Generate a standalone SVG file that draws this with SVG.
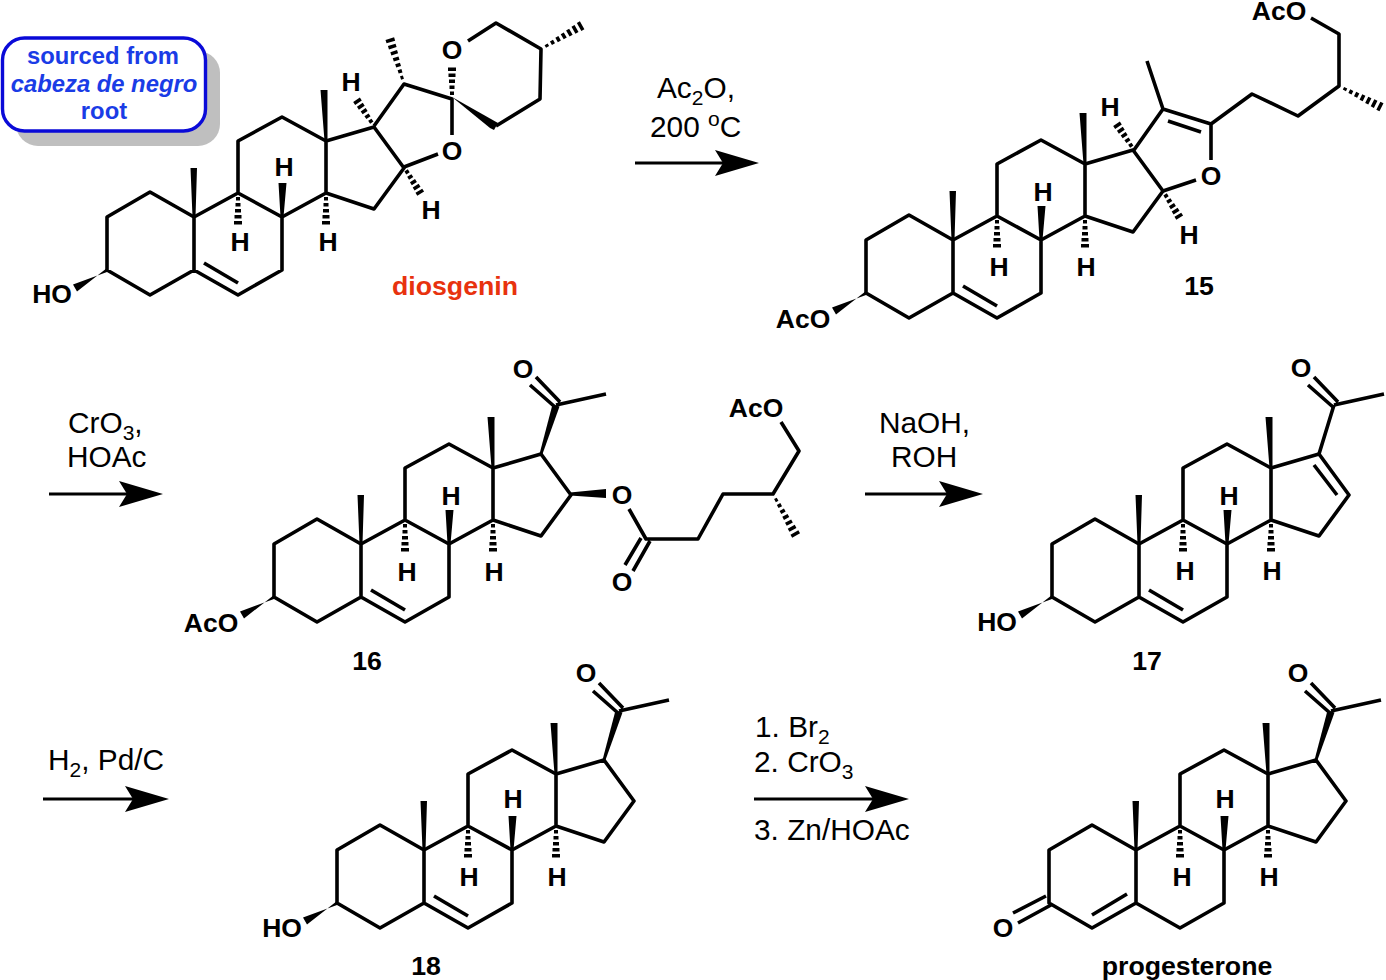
<svg xmlns="http://www.w3.org/2000/svg" xmlns:xlink="http://www.w3.org/1999/xlink" width="1386" height="980" viewBox="0 0 1386 980">
<style>
.b{fill:none;stroke:#000;stroke-width:3.6;stroke-linecap:butt;stroke-linejoin:round}
.w{fill:#000;stroke:none}
text{font-family:"Liberation Sans",Arial,sans-serif;fill:#000}
.a{font-size:26.5px;font-weight:bold;text-anchor:middle}
.l{font-size:26.7px;font-weight:bold;text-anchor:middle}
.r{font-size:29.8px}
.s{font-size:21px}
.c{font-size:23.8px;font-weight:bold;text-anchor:middle;fill:#1a3ce6}
</style>
<defs>
<marker id="ah" markerUnits="userSpaceOnUse" markerWidth="46" markerHeight="28" refX="34" refY="14" orient="auto" viewBox="0 0 46 28"><path class="w" d="M0,1 L44,14 L0,27 L8,14 Z"/></marker>
<path id="hs" class="w" d="M-2,4h4v3.5h-4zM-2.5,10h5v3.5h-5zM-3,16h6v3.5h-6zM-3.5,22h7v3.5h-7zM-4,28h8v3.5h-8z"/>
<path id="hl" class="w" d="M-1.5,5h3v3.5h-3zM-2,11.5h4v3.5h-4zM-2.5,18h5v3.5h-5zM-3,24.5h6v3.5h-6zM-3.5,31h7v3.5h-7zM-4,37.5h8v3.5h-8zM-4.5,44h9v3.5h-9z"/>
<g id="core">
<path class="b" d="M0,53L-44,78L-87,53L-87,0L-44,-25L0,0ZM0,53L44,78L88,53L88,0L44,-24L0,0M44,-24L44,-76L88,-100L132,-76L132,-24L88,0M132,-76L180,-90L210,-49L180,-8L132,-24"/>
<path class="w" d="M-1.5,0L-3.5,-49L3,-49L1.5,0ZM130.5,-76L126.5,-127L133.5,-127L133.5,-76ZM86.5,0L84.5,-34L92.5,-34L89.5,0Z"/>
<use href="#hs" transform="translate(44,-24)"/>
<use href="#hs" transform="translate(132,-24)"/>
</g>
<path id="db56" class="b" d="M10,46L44,66"/>
<path id="ow" class="w" d="M-87,51L-117,74.5L-121,67.5L-87,55Z"/>
<g id="ac">
<path class="b" d="M195,-139L245,-150M169,-159L194,-137M175,-167L199,-142"/>
</g>
<path id="c20w" class="w" d="M178.5,-90L191.5,-139.5L198.5,-137.5L181.5,-90Z"/>
</defs>

<g id="callout">
<rect x="16" y="51" width="204" height="95" rx="22" fill="#bfbfbf"/>
<rect x="2.5" y="38" width="203" height="93" rx="22" fill="#fff" stroke="#0a0ad8" stroke-width="3.4"/>
<text class="c" x="103" y="64">sourced from</text>
<text class="c" x="104" y="92" font-style="italic">cabeza de negro</text>
<text class="c" x="104" y="119">root</text>
</g>

<g id="diosgenin" transform="translate(194,217)">
<use href="#core"/><use href="#db56"/><use href="#ow"/>
<path class="b" d="M180,-91L210,-133L258,-118L258,-82M210,-50L244,-63M274,-176L302,-194L347,-168L346,-118L302,-91"/>
<path class="w" d="M258,-120L304,-94L300,-87L296,-89Z"/>
<use href="#hs" transform="translate(180,-91) rotate(146.3)"/>
<use href="#hs" transform="translate(210,-50) rotate(-32)"/>
<use href="#hs" transform="translate(258,-118) rotate(180)"/>
<use href="#hl" transform="translate(210,-133) rotate(162.6)"/>
<use href="#hl" transform="translate(347,-168) rotate(-120)"/>
<text class="a" x="157" y="-126">H</text><text class="a" x="237" y="2">H</text>
<text class="a" x="90" y="-41">H</text><text class="a" x="46" y="34">H</text><text class="a" x="134" y="34">H</text>
<text class="a" x="258" y="-158">O</text><text class="a" x="258" y="-57">O</text>
<text class="a" x="-142" y="86">HO</text>
<text class="l" x="261" y="78" style="fill:#e8320e">diosgenin</text>
</g>

<g id="compound15" transform="translate(953,240)">
<use href="#core"/><use href="#db56"/><use href="#ow"/>
<path class="b" d="M181,-90L210,-131L258,-116L258,-80M215,-119L248,-108M210,-131L194,-179M210,-49L243,-60M258,-116L299,-146L345,-124L386,-154L386,-206L358,-222"/>
<use href="#hs" transform="translate(181,-90) rotate(146.3)"/>
<use href="#hs" transform="translate(210,-49) rotate(-32)"/>
<use href="#hl" transform="translate(386,-154) rotate(-63.4)"/>
<text class="a" x="90" y="-39">H</text><text class="a" x="46" y="36">H</text><text class="a" x="133" y="36">H</text>
<text class="a" x="157" y="-124">H</text><text class="a" x="236" y="4">H</text>
<text class="a" x="258" y="-55">O</text>
<text class="a" x="-150" y="88">AcO</text><text class="a" x="326" y="-220">AcO</text>
<text class="l" x="246" y="55">15</text>
</g>

<g id="compound16" transform="translate(361,544)">
<use href="#core"/><use href="#db56"/><use href="#ow"/><use href="#ac"/><use href="#c20w"/>
<path class="b" d="M268,-35L285,-5L337,-5L362,-50L412,-50L438,-93L420,-122M280,-6L264,21M289,-3L272,27"/>
<path class="w" d="M209,-51.5L245,-55L245,-46L209,-48.5Z"/>
<use href="#hl" transform="translate(412,-50) rotate(-29.1)"/>
<text class="a" x="90" y="-39">H</text><text class="a" x="46" y="37">H</text><text class="a" x="133" y="37">H</text>
<text class="a" x="261" y="-40">O</text><text class="a" x="261" y="47">O</text><text class="a" x="162" y="-166">O</text>
<text class="a" x="-150" y="88">AcO</text><text class="a" x="395" y="-127">AcO</text>
<text class="l" x="6" y="126">16</text>
</g>

<g id="compound17" transform="translate(1139,544)">
<use href="#core"/><use href="#db56"/><use href="#ow"/><use href="#ac"/>
<path class="b" d="M180,-90L195,-139M175,-79L198,-49"/>
<text class="a" x="90" y="-39">H</text><text class="a" x="46" y="36">H</text><text class="a" x="133" y="36">H</text>
<text class="a" x="162" y="-167">O</text><text class="a" x="-142" y="87">HO</text>
<text class="l" x="8" y="126">17</text>
</g>

<g id="compound18" transform="translate(424,850)">
<use href="#core"/><use href="#db56"/><use href="#ow"/><use href="#ac"/><use href="#c20w"/>
<text class="a" x="89" y="-42">H</text><text class="a" x="45" y="36">H</text><text class="a" x="133" y="36">H</text>
<text class="a" x="162" y="-168">O</text><text class="a" x="-142" y="87">HO</text>
<text class="l" x="2" y="125">18</text>
</g>

<g id="progesterone" transform="translate(1136,850)">
<use href="#core"/><use href="#ac"/><use href="#c20w"/>
<path class="b" d="M-44,65L-9,44M-123,63L-90,46M-118,73L-85,55"/>
<text class="a" x="89" y="-42">H</text><text class="a" x="46" y="36">H</text><text class="a" x="133" y="36">H</text>
<text class="a" x="162" y="-168">O</text><text class="a" x="-133" y="87">O</text>
<text class="l" x="51" y="125">progesterone</text>
</g>

<g id="connectors" fill="none" stroke="#000" stroke-width="3">
<path d="M635,163H749" marker-end="url(#ah)"/>
<path d="M49,494H153" marker-end="url(#ah)"/>
<path d="M865,494H973" marker-end="url(#ah)"/>
<path d="M43,799H159" marker-end="url(#ah)"/>
<path d="M754,799H899" marker-end="url(#ah)"/>
</g>

<g id="reagents">
<text class="r" x="657" y="98">Ac<tspan class="s" dy="7">2</tspan><tspan dy="-7">O,</tspan></text>
<text class="r" x="650" y="137">200 <tspan class="s" dy="-11">o</tspan><tspan dy="11">C</tspan></text>
<text class="r" x="68" y="433">CrO<tspan class="s" dy="7">3</tspan><tspan dy="-7">,</tspan></text>
<text class="r" x="67" y="467">HOAc</text>
<text class="r" x="879" y="433">NaOH,</text>
<text class="r" x="891" y="467">ROH</text>
<text class="r" x="48" y="770">H<tspan class="s" dy="7">2</tspan><tspan dy="-7">, Pd/C</tspan></text>
<text class="r" x="755" y="737">1. Br<tspan class="s" dy="7">2</tspan></text>
<text class="r" x="754" y="772">2. CrO<tspan class="s" dy="7">3</tspan></text>
<text class="r" x="754" y="840">3. Zn/HOAc</text>
</g>
</svg>
